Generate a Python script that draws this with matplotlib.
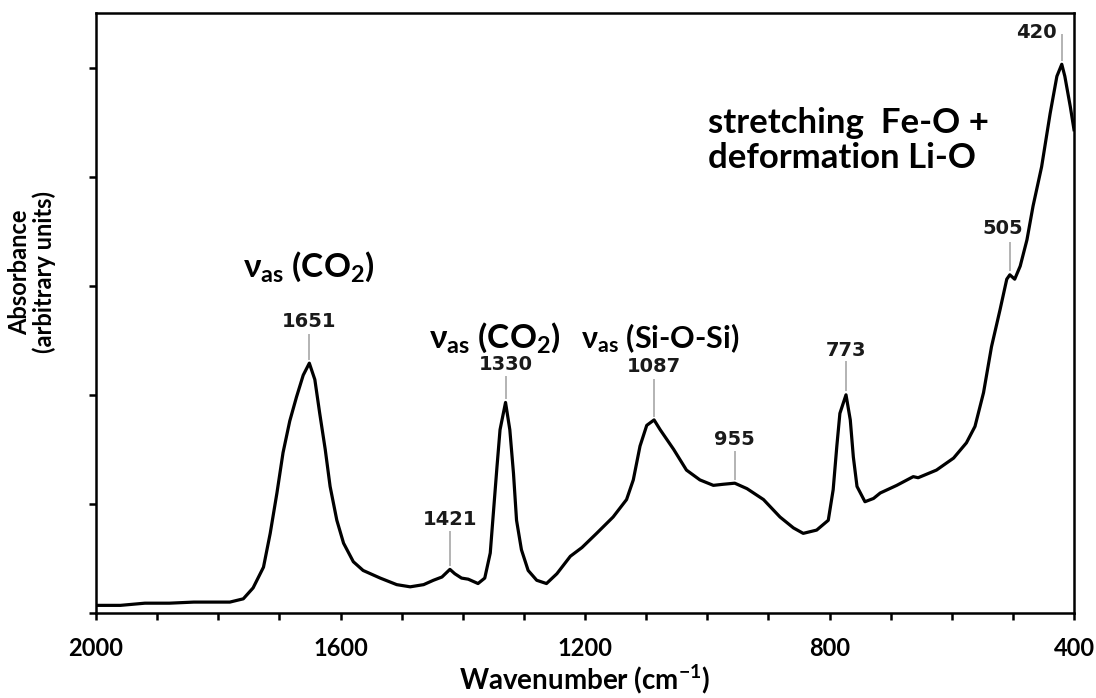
import matplotlib

matplotlib.use("Agg")
import matplotlib.pyplot as plt
import numpy as np

plt.rcParams["mathtext.default"] = "regular"

# FTIR spectrum (wavenumber in cm-1, absorbance a.u.)
wavenumber = [
    2000, 1960, 1920, 1880, 1840, 1800, 1781, 1759, 1743, 1726, 1715, 1704,
    1694, 1683, 1672, 1661, 1651, 1642, 1634, 1625, 1617, 1606, 1595, 1579,
    1563, 1535, 1508, 1486, 1464, 1448, 1434, 1421, 1413, 1402, 1391, 1375,
    1364, 1355, 1350, 1344, 1339, 1330, 1323, 1317, 1312, 1304, 1293, 1279,
    1263, 1246, 1224, 1205, 1181, 1154, 1132, 1121, 1110, 1099, 1087, 1077,
    1055, 1034, 1012, 990, 974, 955, 935, 908, 881, 859, 843, 821,
    802, 794, 788, 783, 773, 766, 761, 755, 742, 728, 717, 690,
    663, 655, 625, 597, 576, 562, 548, 535, 521, 510, 505, 497,
    488, 477, 467, 453, 439, 428, 420, 415, 406, 400,
]
absorbance = [
    0.07, 0.07, 0.09, 0.09, 0.10, 0.10, 0.10, 0.13, 0.23, 0.42, 0.73, 1.10,
    1.47, 1.76, 1.98, 2.18, 2.29, 2.14, 1.83, 1.50, 1.16, 0.85, 0.64, 0.47,
    0.39, 0.32, 0.26, 0.24, 0.26, 0.30, 0.33, 0.40, 0.36, 0.32, 0.31, 0.27,
    0.32, 0.55, 0.91, 1.34, 1.68, 1.93, 1.68, 1.28, 0.85, 0.58, 0.39, 0.30,
    0.27, 0.36, 0.52, 0.60, 0.73, 0.88, 1.04, 1.22, 1.53, 1.72, 1.77, 1.68,
    1.50, 1.31, 1.22, 1.17, 1.18, 1.19, 1.14, 1.04, 0.88, 0.78, 0.73, 0.76,
    0.85, 1.13, 1.53, 1.83, 2.00, 1.77, 1.43, 1.16, 1.02, 1.05, 1.10, 1.17,
    1.25, 1.24, 1.31, 1.42, 1.56, 1.71, 2.02, 2.44, 2.78, 3.06, 3.10, 3.06,
    3.18, 3.42, 3.73, 4.09, 4.58, 4.92, 5.03, 4.92, 4.64, 4.43,
]

# peak markers
peak_pos = [1651, 1421, 1330, 1087, 955, 773, 505, 420]
peak_text = ["1651", "1421", "1330", "1087", "955", "773", "505", "420"]
peak_label_x = [1651, 1421, 1330, 1087, 955, 773, 516, 429]
peak_label_y = [2.67, 0.86, 2.28, 2.26, 1.59, 2.41, 3.52, 5.32]
peak_line_top = [2.55, 0.74, 2.16, 2.14, 1.48, 2.30, 3.39, 5.30]

# band assignments
band_text = ["ν$_{as}$ (CO$_2$)", "ν$_{as}$ (CO$_2$)", "ν$_{as}$ (Si-O-Si)"]
band_x = [1651, 1347, 1077]
band_y = [3.17, 2.52, 2.52]
band_size = [24, 24, 22]

xticks_major = [2000, 1600, 1200, 800, 400]
xticks_minor = list(range(2000, 399, -100))

fig = plt.figure(figsize=(10.96, 6.98), dpi=100)
ax = fig.add_axes([96 / 1096, 85 / 698, 978 / 1096, 600 / 698])

ax.plot(wavenumber, absorbance, color="black", lw=2.3, solid_joinstyle="round")

wn_inc = np.array(wavenumber[::-1])
ab_inc = np.array(absorbance[::-1])
for pos, txt, lx, ly, top in zip(peak_pos, peak_text, peak_label_x, peak_label_y, peak_line_top):
    bottom = np.interp(pos, wn_inc, ab_inc) + 0.04
    ax.plot([pos, pos], [top, bottom], color="#b3b3b3", lw=1.4)
    ax.text(lx, ly, txt, ha="right" if txt == "420" else "center", va="center",
            fontsize=14, fontweight="bold", family="DejaVu Sans", color="#1a1a1a")

for txt, bx, by, sz in zip(band_text, band_x, band_y, band_size):
    ax.text(bx, by, txt, ha="center", va="center", fontsize=sz, fontweight="bold",
            family=["Lato", "DejaVu Sans"])

ax.text(999, 4.33, "stretching  Fe-O +\ndeformation Li-O", ha="left", va="center",
        fontsize=25, fontweight="bold", family=["Lato", "DejaVu Sans"], linespacing=1.1)

ax.set_xlim(2000, 400)
ax.set_ylim(0, 5.5)
ax.set_xticks(xticks_major)
ax.set_xticks(xticks_minor, minor=True)
ax.set_yticks([0, 1, 2, 3, 4, 5])
ax.set_yticklabels([])
ax.tick_params(axis="x", which="both", direction="out", length=5, width=1.8, pad=12,
               labelsize=17)
ax.tick_params(axis="y", direction="out", length=5, width=1.8)
for lab in ax.get_xticklabels():
    lab.set_fontweight("bold")
    lab.set_family("Lato")
for sp in ax.spines.values():
    sp.set_linewidth(1.8)

ax.set_xlabel("Wavenumber (cm$^{-1}$)", fontsize=20, fontweight="bold",
              family="Lato", labelpad=2)
fig.text(32 / 1096, 1 - 272 / 698, "Absorbance\n(arbitrary units)", rotation=90,
         ha="center", va="center", multialignment="center", fontsize=17,
         fontweight="bold", family="Lato", linespacing=1.05)

fig.savefig("out.png", dpi=100)
